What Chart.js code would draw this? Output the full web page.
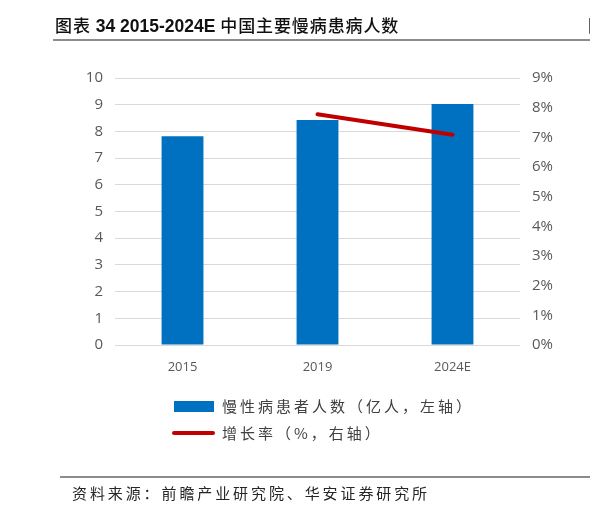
<!DOCTYPE html>
<html>
<head>
<meta charset="utf-8">
<script src="https://cdn.jsdelivr.net/npm/chart.js@4"></script>
<style>
  body { margin: 0; background: #fff; }
  #wrap { position: relative; width: 590px; height: 514px; overflow: hidden; }
  #graph { position: absolute; left: 0; top: 0; }
  .abs { position: absolute; white-space: nowrap; }
  #title { left: 55px; top: 14px; font: bold 17.5px "Liberation Sans", "Noto Sans CJK SC", sans-serif; line-height: 22px; color: #111; }
  #title .cjk { font-family: "Noto Sans CJK SC", sans-serif; font-size: 17px; font-weight: 500; letter-spacing: 0.9px; }
  #title2 { left: 588px; top: 14px; font: 500 17px "Noto Sans CJK SC", sans-serif; line-height: 22px; color: #111; }
  .rule { background: #8c8c8c; height: 2px; }
  .leg { font: 15px "Noto Sans CJK SC", sans-serif; letter-spacing: 3px; color: #404040; line-height: 20px; }
  #source { left: 72px; top: 483px; font: 15px "Noto Sans CJK SC", sans-serif; letter-spacing: 2.9px; color: #262626; line-height: 20px; }
</style>
</head>
<body>
<div id="wrap">
  <canvas id="graph" width="590" height="514"></canvas>
  <div class="abs" id="title"></div>
  <div class="abs" id="title2">图</div>
  <div class="abs rule" style="left:53px;top:39px;width:537px;"></div>
  <div class="abs" style="left:174px;top:401px;width:40px;height:11px;background:#0070C0;"></div>
  <div class="abs leg" id="leg_bar" style="left:222px;top:396px;"></div>
  <div class="abs" style="left:172px;top:431px;width:43px;height:4px;border-radius:2px;background:#C00000;"></div>
  <div class="abs leg" id="leg_line" style="left:222px;top:423px;"></div>
  <div class="abs rule" style="left:60px;top:476px;width:530px;"></div>
  <div class="abs" id="source"></div>
</div>
<script>
"use strict";

// Daten
const title_text = "图表 34 2015-2024E 中国主要慢病患病人数";
const source_text = "资料来源：前瞻产业研究院、华安证券研究所";
const categories = ["2015", "2019", "2024E"];
const patients = [7.82, 8.43, 9.03];        // 亿人, linke Achse
const growth_rate = [null, 7.78, 7.09];     // %, rechte Achse
const bar_label = "慢性病患者人数（亿人，左轴）";
const line_label = "增长率（%，右轴）";

// Titel: chinesische Zeichen etwas leichter, Zahlen fett
const title_el = document.getElementById("title");
title_text.split(/([\u4e00-\u9fff]+)/).forEach((part) => {
  if (!part) return;
  const span = document.createElement("span");
  if (/[\u4e00-\u9fff]/.test(part)) span.className = "cjk";
  span.textContent = part;
  title_el.appendChild(span);
});
document.getElementById("source").textContent = source_text;
document.getElementById("leg_bar").textContent = bar_label;
document.getElementById("leg_line").textContent = line_label;

const tick_font = { family: "Open Sans", size: 15 };
const tick_color = "#595959";

const config = {
  type: "bar",
  data: {
    labels: categories,
    datasets: [
      {
        type: "line",
        label: line_label,
        data: growth_rate,
        yAxisID: "y1",
        borderColor: "#C00000",
        borderWidth: 4,
        borderCapStyle: "round",
        pointRadius: 0,
        order: 0,
      },
      {
        label: bar_label,
        data: patients,
        yAxisID: "y",
        backgroundColor: "#0070C0",
        categoryPercentage: 1,
        barPercentage: 0.31,
        order: 1,
      },
    ],
  },
  options: {
    responsive: false,
    animation: false,
    layout: { padding: { left: 60, right: 20, top: 78, bottom: 129 } },
    plugins: { legend: { display: false }, tooltip: { enabled: false } },
    scales: {
      x: {
        grid: { display: false },
        border: { display: false },
        ticks: { font: { family: "Open Sans", size: 13 }, color: tick_color, padding: 6 },
        afterFit: (scale) => { scale.height = 40; },
      },
      y: {
        min: 0,
        max: 10,
        grid: { color: "#d9d9d9", lineWidth: 1, drawTicks: false },
        border: { display: false },
        ticks: { stepSize: 1, font: tick_font, color: tick_color, padding: 12 },
        afterFit: (scale) => { scale.width = 55; },
      },
      y1: {
        position: "right",
        min: 0,
        max: 9,
        grid: { display: false, drawTicks: false },
        border: { display: false },
        ticks: {
          stepSize: 1,
          font: tick_font,
          color: tick_color,
          padding: 12,
          callback: (value) => value + "%",
        },
        afterFit: (scale) => { scale.width = 50; },
      },
    },
  },
};

new Chart(document.getElementById("graph"), config);
</script>
</body>
</html>
